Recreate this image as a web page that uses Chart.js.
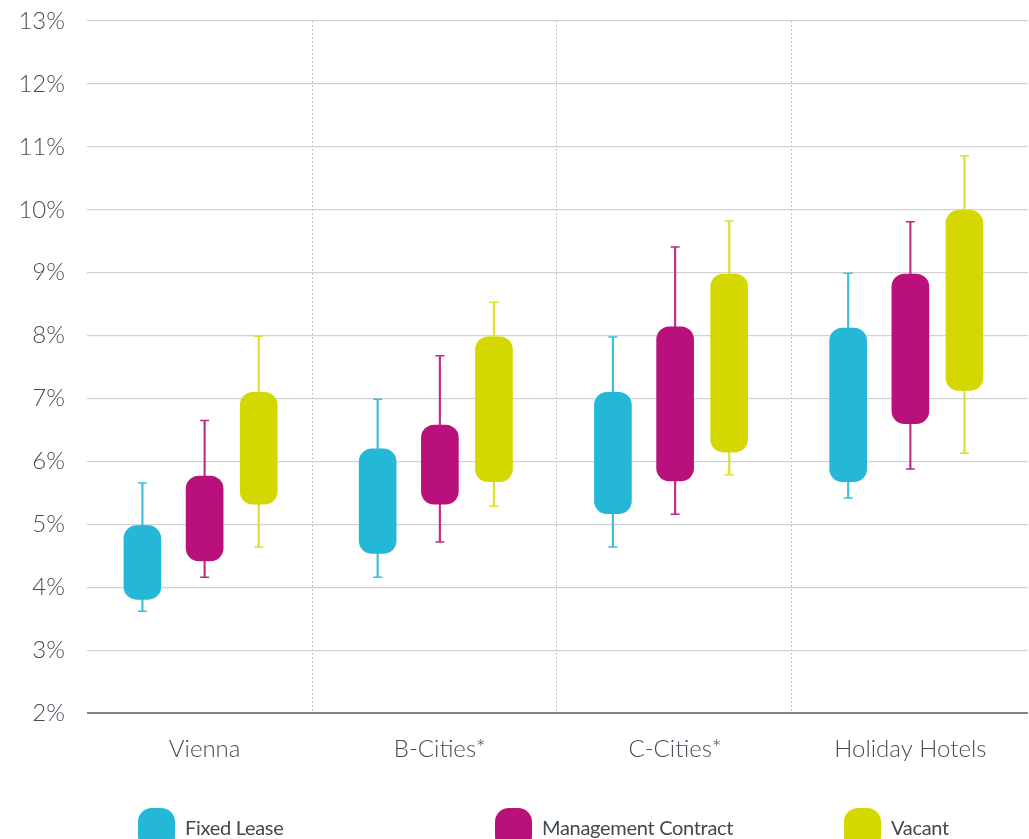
<!DOCTYPE html>
<html>
<head>
<meta charset="utf-8">
<script src="https://cdn.jsdelivr.net/npm/chart.js@4/dist/chart.umd.min.js"></script>
<style>
  html, body { margin: 0; padding: 0; background: #fff; overflow: hidden; width: 1029px; height: 839px; }
  #wrap { position: absolute; left: 0; top: 0; width: 1034px; height: 778px; }
  #legend { position: absolute; left: 0; top: 0; width: 1029px; height: 839px; pointer-events: none; }
  .item { position: absolute; top: 808px; display: flex; align-items: flex-start; }
  .mark { width: 37px; height: 42px; border-radius: 14px; }
  .lab { font-family: Lato, "Open Sans", sans-serif; font-size: 20px; color: #3f4952; margin-left: 10px; margin-top: 7px; letter-spacing: -0.3px; }
</style>
</head>
<body>
<div id="wrap"><canvas id="c"></canvas></div>
<div id="legend"></div>
<script>
// ---- data ----
const categories = ['Vienna', 'B-Cities*', 'C-Cities*', 'Holiday Hotels'];
const seriesNames = ['Fixed Lease', 'Management Contract', 'Vacant'];
const yTicks = [2, 3, 4, 5, 6, 7, 8, 9, 10, 11, 12, 13];

const fixedMin  = [3.62, 4.16, 4.64, 5.42];
const fixedLow  = [3.81, 4.54, 5.17, 5.68];
const fixedHigh = [4.98, 6.20, 7.10, 8.12];
const fixedMax  = [5.66, 6.99, 7.98, 8.99];

const mgmtMin  = [4.16, 4.72, 5.16, 5.88];
const mgmtLow  = [4.42, 5.32, 5.69, 6.60];
const mgmtHigh = [5.77, 6.58, 8.14, 8.98];
const mgmtMax  = [6.65, 7.68, 9.41, 9.81];

const vacMin  = [4.64, 5.29, 5.79, 6.13];
const vacLow  = [5.32, 5.68, 6.15, 7.13];
const vacHigh = [7.10, 7.98, 8.98, 9.99];
const vacMax  = [7.99, 8.53, 9.82, 10.86];

// ---- styles ----
const colors = ['#25b8d6', '#b9107b', '#d4d800'];
const whiskerColors = ['#3cc0dc', '#c42a88', '#dcdf2e'];
const offsets = [-0.2645, 0, 0.2298];
const series = [
  [fixedMin, fixedLow, fixedHigh, fixedMax],
  [mgmtMin, mgmtLow, mgmtHigh, mgmtMax],
  [vacMin, vacLow, vacHigh, vacMax]
];

const datasets = [];
series.forEach((s, k) => {
  const [mn, lo, hi, mx] = s;
  datasets.push({
    type: 'bar', label: seriesNames[k],
    data: categories.map((c, i) => ({ x: i + offsets[k], y: [lo[i], hi[i]] })),
    backgroundColor: colors[k], barThickness: 37, borderRadius: 13, borderSkipped: false,
    grouped: false, order: 1
  });
  datasets.push({
    type: 'bar', label: seriesNames[k] + ' range',
    data: categories.map((c, i) => ({ x: i + offsets[k], y: [mn[i], mx[i]] })),
    backgroundColor: whiskerColors[k], barThickness: 1.5, grouped: false, order: 3
  });
  datasets.push({
    type: 'scatter', label: seriesNames[k] + ' caps',
    data: categories.flatMap((c, i) => [{ x: i + offsets[k], y: mn[i] }, { x: i + offsets[k], y: mx[i] }]),
    pointStyle: 'line', radius: 4.5, borderColor: whiskerColors[k], borderWidth: 1.5,
    order: 2
  });
});

const font = 'Lato, "Open Sans", sans-serif';
const tickColor = '#434d57';

new Chart(document.getElementById('c'), {
  data: { datasets },
  options: {
    responsive: true, maintainAspectRatio: false, animation: false,
    layout: { padding: { top: 21, right: 0, left: 0, bottom: 0 } },
    plugins: { legend: { display: false }, tooltip: { enabled: false } },
    scales: {
      x: {
        type: 'linear', min: -0.5, max: 3.5, position: 'bottom', offset: false,
        grid: { display: false }, border: { display: false },
        afterBuildTicks: (s) => { s.ticks = categories.map((c, i) => ({ value: i })); },
        afterFit: (s) => { s.paddingLeft = 0; s.paddingRight = 0; },
        ticks: {
          callback: (v) => categories[Math.round(v)],
          font: { family: font, size: 24, weight: 300 }, color: tickColor, padding: 14,
          maxRotation: 0, autoSkip: false
        }
      },
      xs: {
        type: 'linear', min: -0.5, max: 3.5, position: 'bottom', offset: false,
        afterBuildTicks: (s) => { s.ticks = [0.46, 1.495, 2.495].map(v => ({ value: v })); },
        afterFit: (s) => { s.height = 0; s.paddingLeft = 0; s.paddingRight = 0; },
        ticks: { display: false },
        border: { display: false, dash: [2, 2] },
        grid: { color: '#c4c4c4', lineWidth: 1, drawTicks: false }
      },
      y: {
        type: 'linear', min: 2, max: 13,
        afterBuildTicks: (s) => { s.ticks = yTicks.map(v => ({ value: v })); },
        afterFit: (s) => { s.width = 87; s.paddingTop = 0; s.paddingBottom = 0; },
        ticks: {
          callback: (v) => v + '%',
          font: { family: font, size: 24, weight: 300 }, color: tickColor, padding: 22
        },
        border: { display: false },
        grid: {
          drawTicks: false,
          color: (ctx) => ctx.tick && ctx.tick.value === 2 ? '#7c868d' : '#d2d2d2',
          lineWidth: (ctx) => ctx.tick && ctx.tick.value === 2 ? 2 : 1.2
        }
      }
    }
  }
});

// legend
const leg = document.getElementById('legend');
const legX = [138, 495, 844];
seriesNames.forEach((n, k) => {
  const it = document.createElement('div');
  it.className = 'item';
  it.style.left = legX[k] + 'px';
  it.innerHTML = '<div class="mark" style="background:' + colors[k] + '"></div><div class="lab">' + n + '</div>';
  leg.appendChild(it);
});
</script>
</body>
</html>
